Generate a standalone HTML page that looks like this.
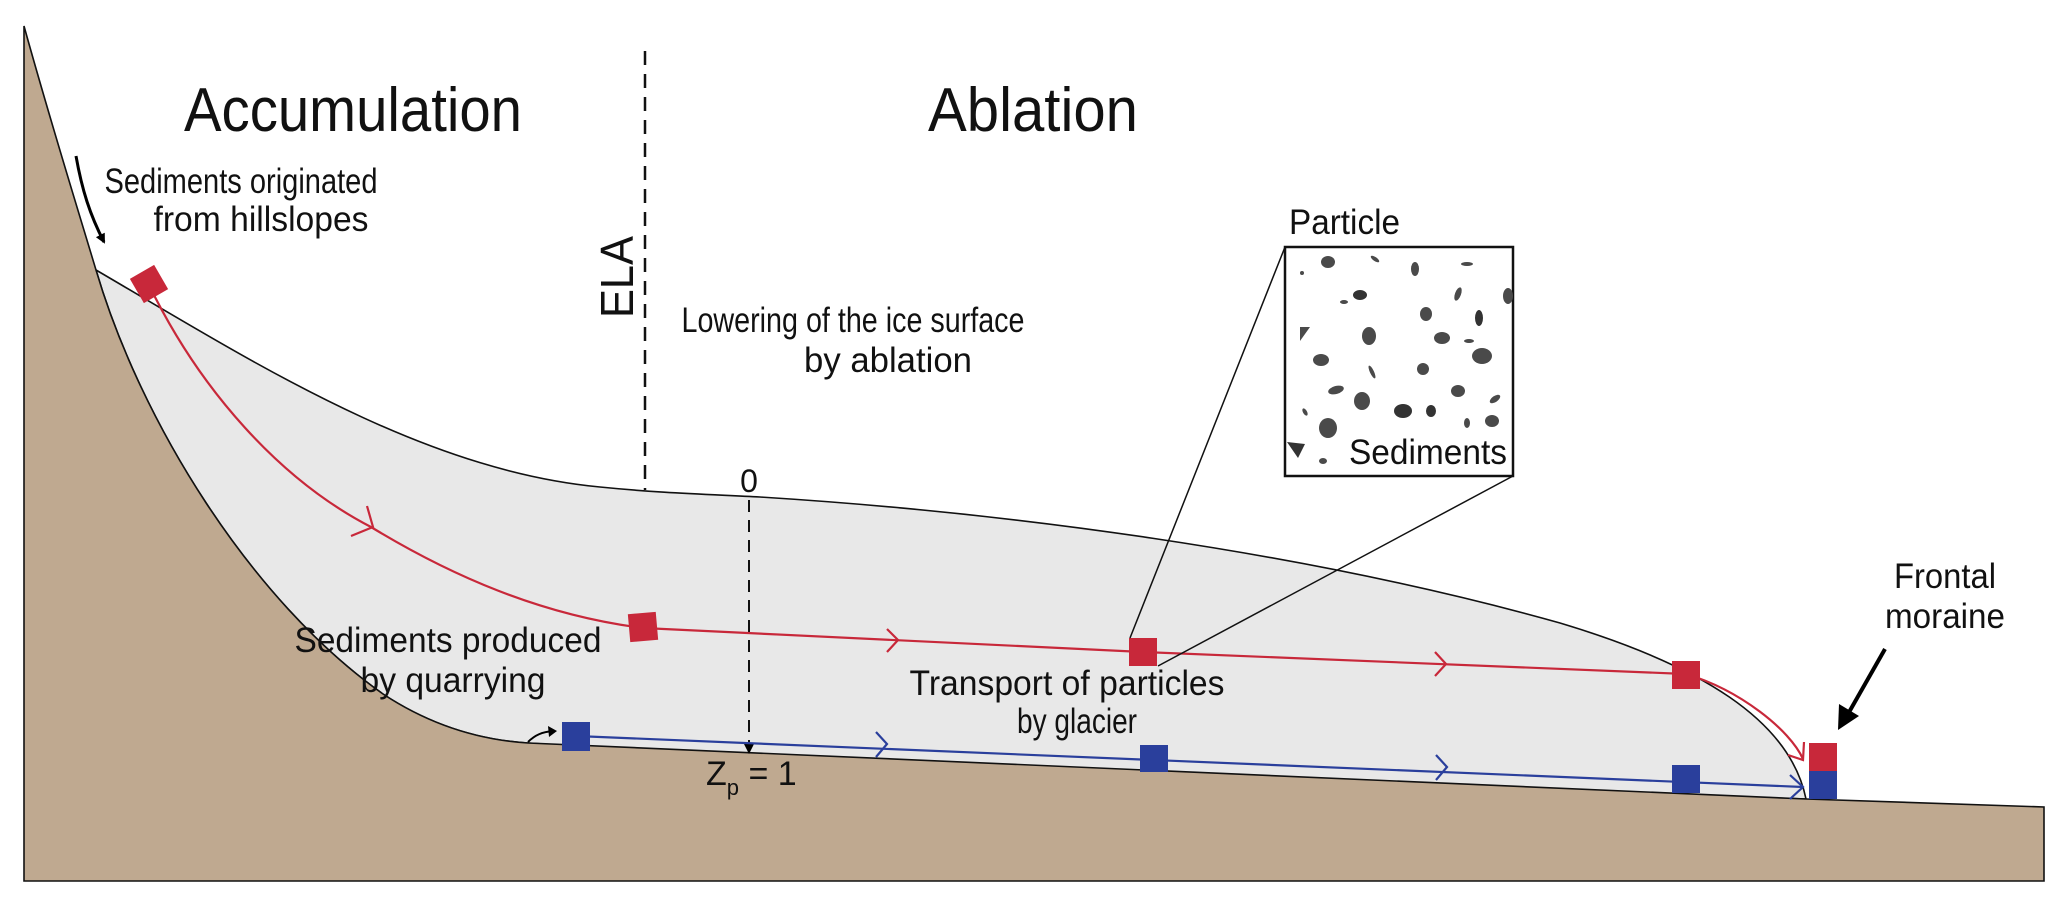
<!DOCTYPE html>
<html><head><meta charset="utf-8"><style>
html,body{margin:0;padding:0;background:#fff;}
svg{display:block;}
text{font-family:"Liberation Sans",sans-serif;fill:#111;}
</style></head><body>
<svg width="2068" height="905" viewBox="0 0 2068 905" xmlns="http://www.w3.org/2000/svg">
<defs>
<marker id="ah" markerWidth="10" markerHeight="10" refX="8" refY="5" orient="auto" markerUnits="userSpaceOnUse">
<path d="M0,0 L10,5 L0,10 z" fill="#000"/></marker>
</defs>
<!-- ice -->
<path d="M96,270 C250,360 420,470 600,487 C660,493 700,494 760,497 C1000,512 1300,550 1560,623 C1700,665 1790,720 1806,799 L1000,772 L528,743 C480,740 430,725 383,694 C250,600 140,420 96,270 z" fill="#e8e8e8" stroke="#111" stroke-width="1.6"/>
<!-- bedrock -->
<path d="M24,26 C50,120 75,200 96,270 C140,420 250,600 383,694 C430,725 480,740 528,743 L1806,799 L2044,807 L2044,881 L24,881 z" fill="#bfa990" stroke="#111" stroke-width="1.6"/>
<!-- ELA -->
<line x1="645" y1="51" x2="645" y2="490" stroke="#111" stroke-width="2.5" stroke-dasharray="14,9"/>
<text transform="translate(633,277) rotate(-90)" font-size="46" text-anchor="middle" textLength="82" lengthAdjust="spacingAndGlyphs">ELA</text>
<!-- titles -->
<text x="353" y="131" font-size="62" text-anchor="middle" textLength="338" lengthAdjust="spacingAndGlyphs">Accumulation</text>
<text x="1033" y="131" font-size="62" text-anchor="middle" textLength="210" lengthAdjust="spacingAndGlyphs">Ablation</text>
<!-- hillslope label -->
<text x="241" y="193" font-size="35" text-anchor="middle" textLength="273" lengthAdjust="spacingAndGlyphs">Sediments originated</text>
<text x="261" y="231" font-size="35" text-anchor="middle" textLength="215" lengthAdjust="spacingAndGlyphs">from hillslopes</text>
<path d="M76,156 C82,190 90,215 104,242" fill="none" stroke="#000" stroke-width="3" marker-end="url(#ah)"/>
<!-- lowering -->
<text x="853" y="332" font-size="35" text-anchor="middle" textLength="343" lengthAdjust="spacingAndGlyphs">Lowering of the ice surface</text>
<text x="888" y="372" font-size="35" text-anchor="middle" textLength="168" lengthAdjust="spacingAndGlyphs">by ablation</text>
<text x="749" y="492" font-size="32" text-anchor="middle">0</text>
<line x1="749" y1="500" x2="749" y2="745" stroke="#111" stroke-width="2" stroke-dasharray="12,8"/>
<path d="M744,744 L754,744 L749,754 z" fill="#000"/>
<text x="706" y="785" font-size="34">Z<tspan font-size="22" dy="10">p</tspan><tspan dy="-10"> = 1</tspan></text>
<!-- quarrying -->
<text x="448" y="652" font-size="35" text-anchor="middle" textLength="307" lengthAdjust="spacingAndGlyphs">Sediments produced</text>
<text x="453" y="692" font-size="35" text-anchor="middle" textLength="185" lengthAdjust="spacingAndGlyphs">by quarrying</text>
<path d="M528,742 C535,735 542,732 553,731" fill="none" stroke="#000" stroke-width="2"/>
<path d="M548,726 L557,731 L549,737 z" fill="#000"/>
<!-- transport -->
<text x="1067" y="695" font-size="35" text-anchor="middle" textLength="315" lengthAdjust="spacingAndGlyphs">Transport of particles</text>
<text x="1077" y="733" font-size="35" text-anchor="middle" textLength="120" lengthAdjust="spacingAndGlyphs">by glacier</text>
<!-- red path -->
<g stroke="#c8283a" stroke-width="2.2" fill="none">
<path d="M149,285 C200,390 280,480 371,527 C450,575 540,615 643,628 L1143,652 L1686,674 C1740,690 1790,730 1803,759"/>
<path d="M367,506 L373,527 L351,536"/>
<path d="M887,629 L898,640 L887,652"/>
<path d="M1435,652 L1446,664 L1435,676"/>
<path d="M1788,755 L1803,760 L1804,742"/>
</g>
<!-- blue path -->
<g stroke="#2a3f9c" stroke-width="2.2" fill="none">
<path d="M576,736 L1803,787"/>
<path d="M876,732 L887,744 L876,757"/>
<path d="M1436,755 L1447,767 L1436,780"/>
<path d="M1790,775 L1803,787 L1790,799"/>
</g>
<!-- squares -->
<rect x="135" y="270" width="28" height="28" fill="#c8283a" transform="rotate(-30 149 284)"/>
<rect x="629" y="613" width="28" height="28" fill="#c8283a" transform="rotate(-5 643 627)"/>
<rect x="1129" y="638" width="28" height="28" fill="#c8283a"/>
<rect x="1672" y="661" width="28" height="28" fill="#c8283a"/>
<rect x="1809" y="743" width="28" height="28" fill="#c8283a"/>
<rect x="562" y="722" width="28" height="29" fill="#2a3f9c"/>
<rect x="1140" y="745" width="28" height="27" fill="#2a3f9c"/>
<rect x="1672" y="765" width="28" height="28" fill="#2a3f9c"/>
<rect x="1809" y="771" width="28" height="28" fill="#2a3f9c"/>
<!-- frontal moraine -->
<text x="1945" y="588" font-size="35" text-anchor="middle" textLength="102" lengthAdjust="spacingAndGlyphs">Frontal</text>
<text x="1945" y="628" font-size="35" text-anchor="middle" textLength="120" lengthAdjust="spacingAndGlyphs">moraine</text>
<line x1="1885" y1="649" x2="1848" y2="714" stroke="#000" stroke-width="4"/>
<path d="M1838,730 L1839,704 L1859,716 z" fill="#000"/>
<!-- particle box -->
<line x1="1285" y1="247" x2="1130" y2="638" stroke="#111" stroke-width="1.5"/>
<line x1="1513" y1="476" x2="1158" y2="666" stroke="#111" stroke-width="1.5"/>
<text x="1289" y="234" font-size="35" textLength="111" lengthAdjust="spacingAndGlyphs">Particle</text>
<rect x="1285" y="247" width="228" height="229" fill="#fff" stroke="#111" stroke-width="2.5"/>
<g fill="#4a4a4a">
<ellipse cx="1328" cy="262" rx="7" ry="6"/>
<ellipse cx="1375" cy="259" rx="5" ry="2" transform="rotate(35 1375 259)"/>
<ellipse cx="1415" cy="269" rx="4" ry="7"/>
<ellipse cx="1467" cy="264" rx="6" ry="2"/>
<ellipse cx="1302" cy="273" rx="2" ry="2"/>
<ellipse cx="1360" cy="295" rx="7" ry="5" fill="#333"/>
<ellipse cx="1344" cy="302" rx="4" ry="2"/>
<ellipse cx="1458" cy="294" rx="3" ry="7" transform="rotate(20 1458 294)"/>
<ellipse cx="1508" cy="296" rx="5" ry="8"/>
<ellipse cx="1426" cy="314" rx="6" ry="7"/>
<ellipse cx="1479" cy="318" rx="4" ry="8" fill="#333"/>
<path d="M1300,327 L1310,327 L1300,341 z"/>
<ellipse cx="1369" cy="336" rx="7" ry="9"/>
<ellipse cx="1442" cy="338" rx="8" ry="6"/>
<ellipse cx="1469" cy="341" rx="5" ry="2"/>
<ellipse cx="1482" cy="356" rx="10" ry="8"/>
<ellipse cx="1321" cy="360" rx="8" ry="6"/>
<ellipse cx="1372" cy="372" rx="2" ry="7" transform="rotate(-25 1372 372)"/>
<ellipse cx="1423" cy="369" rx="6" ry="6"/>
<ellipse cx="1336" cy="390" rx="8" ry="4" transform="rotate(-15 1336 390)"/>
<ellipse cx="1458" cy="391" rx="7" ry="6"/>
<ellipse cx="1362" cy="401" rx="8" ry="9"/>
<ellipse cx="1495" cy="399" rx="6" ry="3" transform="rotate(-35 1495 399)"/>
<ellipse cx="1403" cy="411" rx="9" ry="7" fill="#333"/>
<ellipse cx="1431" cy="411" rx="5" ry="6" fill="#333"/>
<ellipse cx="1305" cy="412" rx="2" ry="4" transform="rotate(-30 1305 412)"/>
<ellipse cx="1328" cy="428" rx="9" ry="10"/>
<ellipse cx="1467" cy="423" rx="3" ry="5"/>
<ellipse cx="1492" cy="421" rx="7" ry="6"/>
<path d="M1287,442 L1305,444 L1298,458 z" fill="#333"/>
<ellipse cx="1323" cy="461" rx="4" ry="3"/>
</g>
<text x="1349" y="464" font-size="35" textLength="158" lengthAdjust="spacingAndGlyphs">Sediments</text>
</svg>
</body></html>
